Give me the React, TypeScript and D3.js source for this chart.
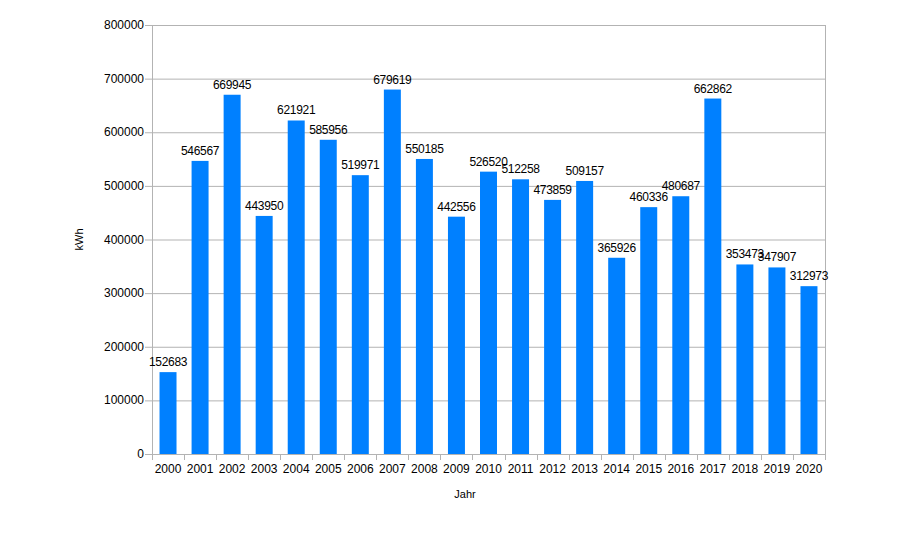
import React, { useEffect, useRef } from 'react';
import * as d3 from 'd3';

const years = [
  '2000', '2001', '2002', '2003', '2004', '2005', '2006', '2007', '2008', '2009', '2010',
  '2011', '2012', '2013', '2014', '2015', '2016', '2017', '2018', '2019', '2020',
];
const energy = [
  152683, 546567, 669945, 443950, 621921, 585956, 519971, 679619, 550185, 442556, 526520,
  512258, 473859, 509157, 365926, 460336, 480687, 662862, 353473, 347907, 312973,
];
const yTicks = [0, 100000, 200000, 300000, 400000, 500000, 600000, 700000, 800000];

const App = () => {
  const svgRef = useRef<SVGSVGElement>(null);

  useEffect(() => {
    const svg = d3.select(svgRef.current);
    svg.selectAll('*').remove();

    const margin = { left: 152, right: 93, top: 25, bottom: 91 };
    const width = 918 - margin.left - margin.right;
    const height = 545 - margin.top - margin.bottom;
    const font = 'Liberation Sans, Arial, sans-serif';

    const g = svg.append('g').attr('transform', `translate(${margin.left}, ${margin.top})`);

    const x = d3.scaleBand().domain(years).range([0, width]).paddingInner(0.47).paddingOuter(0.235);
    const y = d3.scaleLinear().domain([0, 800000]).range([height, 0]);

    // grid
    g.selectAll('line.grid')
      .data(yTicks)
      .enter()
      .append('line')
      .attr('class', 'grid')
      .attr('x1', -7)
      .attr('x2', width)
      .attr('y1', (d) => y(d) + 0.5)
      .attr('y2', (d) => y(d) + 0.5)
      .attr('stroke', '#b3b3b3');

    // frame sides
    g.append('line')
      .attr('x1', 0.5).attr('x2', 0.5).attr('y1', 0).attr('y2', height + 6)
      .attr('stroke', '#b3b3b3');
    g.append('line')
      .attr('x1', width + 0.5).attr('x2', width + 0.5).attr('y1', 0).attr('y2', height + 6)
      .attr('stroke', '#b3b3b3');

    // x ticks between categories
    const step = x.step();
    g.selectAll('line.xtick')
      .data(d3.range(1, years.length))
      .enter()
      .append('line')
      .attr('class', 'xtick')
      .attr('x1', (i) => Math.round(i * step) + 0.5)
      .attr('x2', (i) => Math.round(i * step) + 0.5)
      .attr('y1', height)
      .attr('y2', height + 6)
      .attr('stroke', '#b3b3b3');

    // y labels
    g.selectAll('text.ylab')
      .data(yTicks)
      .enter()
      .append('text')
      .attr('class', 'ylab')
      .attr('x', -8)
      .attr('y', (d) => y(d) + 4)
      .attr('text-anchor', 'end')
      .attr('font-family', font)
      .attr('font-size', '12px')
      .text((d) => String(d));

    // x labels
    g.selectAll('text.xlab')
      .data(years)
      .enter()
      .append('text')
      .attr('class', 'xlab')
      .attr('x', (d) => (x(d) as number) + x.bandwidth() / 2)
      .attr('y', height + 19)
      .attr('text-anchor', 'middle')
      .attr('font-family', font)
      .attr('font-size', '12px')
      .text((d) => d);

    // bars
    g.selectAll('rect.bar')
      .data(energy)
      .enter()
      .append('rect')
      .attr('class', 'bar')
      .attr('x', (d, i) => x(years[i]) as number)
      .attr('y', (d) => y(d))
      .attr('width', x.bandwidth())
      .attr('height', (d) => height - y(d))
      .attr('fill', '#0080ff');

    // value labels
    g.selectAll('text.val')
      .data(energy)
      .enter()
      .append('text')
      .attr('class', 'val')
      .attr('x', (d, i) => (x(years[i]) as number) + x.bandwidth() / 2)
      .attr('y', (d) => y(d) - 6)
      .attr('text-anchor', 'middle')
      .attr('font-family', font)
      .attr('font-size', '12px')
      .attr('letter-spacing', '-0.3px')
      .text((d) => String(d));

    // axis titles
    svg.append('text')
      .attr('x', 465)
      .attr('y', margin.top + height + 44)
      .attr('text-anchor', 'middle')
      .attr('font-family', font)
      .attr('font-size', '11px')
      .text('Jahr');

    g.append('text')
      .attr('transform', `translate(${-69}, ${height / 2}) rotate(-90)`)
      .attr('text-anchor', 'middle')
      .attr('font-family', font)
      .attr('font-size', '11px')
      .text('kWh');
  }, []);

  return <svg ref={svgRef} width={918} height={545} style={{ display: 'block', margin: '-8px' }} />;
};

export default App;
